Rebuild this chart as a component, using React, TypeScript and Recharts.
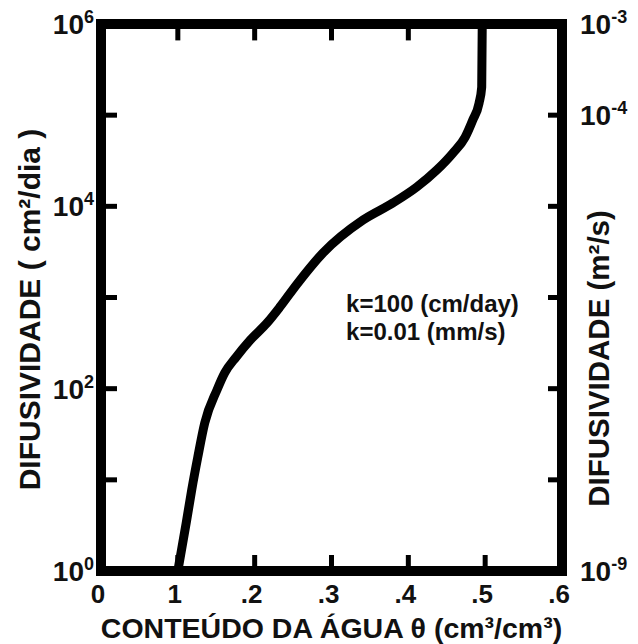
import { LineChart, Line, XAxis, YAxis, ReferenceArea, ReferenceDot, ReferenceLine } from 'recharts';

// curve: water content vs diffusivity (cm2/day)
const theta = [
  0.1, 0.111, 0.118, 0.126, 0.135, 0.151, 0.161, 0.176, 0.194, 0.216, 0.233, 0.255,
  0.289, 0.341, 0.38, 0.411, 0.437, 0.458, 0.474, 0.484, 0.492, 0.4955, 0.4962,
];
const diffusivity = [
  1, 3.4, 7.7, 17.8, 42, 97, 149, 223, 340, 525, 790, 1400,
  3090, 7080, 10900, 16300, 25000, 38400, 57500, 89000, 135000, 203000, 1000000,
];

const xTicks = [0, 0.1, 0.2, 0.3, 0.4, 0.5, 0.6];
const xTickLabels = ['0', '1', '.2', '.3', '.4', '.5', '.6'];
const topTicks = [0.1, 0.2, 0.3, 0.4];
const yTicks = [1, 10, 100, 1000, 10000, 100000, 1000000];
const leftExp = ['0', '', '2', '', '4', '', '6'];
const rightExp = ['-9', '', '', '', '', '-4', '-3'];
const notes = ['k=100 (cm/day)', 'k=0.01 (mm/s)'];

const data = theta.map((t, i) => ({ theta: t, d: diffusivity[i] }));

const FONT = '"Liberation Sans", Arial, Helvetica, sans-serif';
const INK = '#000';
const TICK_W = 5;
const Y_MAX = 1000000;
// top ticks hang down ~0.18 decade from the top frame
const TOP_TICK_END = Math.pow(10, 6 - 0.18);
const txt = { fontFamily: FONT, fontWeight: 'bold', fill: '#111' };

// label + inward tick mark; no mark at the corners (the frame covers them)
function PowerTick({ x, y, payload, exps, side, gap, len }: any) {
  const i = yTicks.indexOf(payload.value);
  const exp = exps[i];
  const inner = i > 0 && i < yTicks.length - 1;
  const edge = side === 'left' ? x + gap : x - gap;
  const tip = side === 'left' ? edge + len : edge - len;
  return (
    <g>
      {inner && <line x1={edge} x2={tip} y1={y} y2={y} stroke={INK} strokeWidth={TICK_W} />}
      {exp && (
        <text x={x} y={y + 10} textAnchor={side === 'left' ? 'end' : 'start'} fontSize={28} {...txt}>
          10<tspan dy={-11} fontSize={18}>{exp}</tspan>
        </text>
      )}
    </g>
  );
}

function XTick({ x, y, payload, gap }: any) {
  const i = xTicks.indexOf(payload.value);
  const inner = i > 0 && i < xTicks.length - 1;
  return (
    <g>
      {inner && <line x1={x} x2={x} y1={y - gap} y2={y - gap - 16} stroke={INK} strokeWidth={TICK_W} />}
      <text x={x - 3} y={y + 18} textAnchor="middle" fontSize={26} {...txt}>
        {xTickLabels[i]}
      </text>
    </g>
  );
}

export default function App() {
  return (
    <div style={{ position: 'absolute', left: 0, top: 0, background: '#fff' }}>
      <LineChart width={638} height={644} data={data} margin={{ top: 24, right: 0, bottom: 0, left: 0 }}>
        <XAxis
          xAxisId="b"
          dataKey="theta"
          type="number"
          domain={[0, 0.6]}
          ticks={xTicks}
          interval={0}
          height={73}
          tickSize={0}
          tickMargin={14}
          tickLine={false}
          axisLine={false}
          tick={<XTick gap={14} />}
          allowDataOverflow
          label={{
            value: 'CONTEÚDO DA ÁGUA θ (cm³/cm³)',
            position: 'insideBottom',
            offset: 6,
            fontSize: 28.5,
            ...txt,
          }}
        />
        <YAxis
          yAxisId="l"
          scale="log"
          type="number"
          domain={[1, Y_MAX]}
          ticks={yTicks}
          interval={0}
          width={101}
          tickSize={0}
          tickMargin={7}
          tickLine={false}
          axisLine={false}
          tick={<PowerTick exps={leftExp} side="left" gap={7} len={16} />}
          allowDataOverflow
          label={{
            value: 'DIFUSIVIDADE ( cm²/dia )',
            angle: -90,
            position: 'center',
            dx: -21,
            dy: 12,
            fontSize: 30,
            ...txt,
          }}
        />
        <YAxis
          yAxisId="r"
          orientation="right"
          scale="log"
          type="number"
          domain={[1, Y_MAX]}
          ticks={yTicks}
          interval={0}
          width={76}
          tickSize={0}
          tickMargin={18}
          tickLine={false}
          axisLine={false}
          tick={<PowerTick exps={rightExp} side="right" gap={18} len={14} />}
          allowDataOverflow
          label={{
            value: 'DIFUSIVIDADE (m²/s)',
            angle: -90,
            position: 'center',
            dx: -1,
            dy: 61,
            fontSize: 29.5,
            ...txt,
          }}
        />
        {topTicks.map((t) => (
          <ReferenceLine
            key={t}
            xAxisId="b"
            yAxisId="l"
            segment={[
              { x: t, y: Y_MAX },
              { x: t, y: TOP_TICK_END },
            ]}
            stroke={INK}
            strokeWidth={TICK_W}
          />
        ))}
        <ReferenceArea
          xAxisId="b"
          yAxisId="l"
          x1={0}
          x2={0.6}
          y1={1}
          y2={Y_MAX}
          fill="none"
          stroke={INK}
          strokeWidth={10}
          ifOverflow="visible"
        />
        <Line
          xAxisId="b"
          yAxisId="l"
          type="monotone"
          dataKey="d"
          stroke={INK}
          strokeWidth={9}
          strokeLinejoin="round"
          dot={false}
          isAnimationActive={false}
        />
        <ReferenceDot
          xAxisId="b"
          yAxisId="l"
          x={0.319}
          y={870}
          r={0}
          fill="none"
          stroke="none"
          label={{ value: notes[0], position: 'right', offset: 0, fontSize: 24, ...txt }}
        />
        <ReferenceDot
          xAxisId="b"
          yAxisId="l"
          x={0.319}
          y={429}
          r={0}
          fill="none"
          stroke="none"
          label={{ value: notes[1], position: 'right', offset: 0, fontSize: 24, ...txt }}
        />
      </LineChart>
    </div>
  );
}
